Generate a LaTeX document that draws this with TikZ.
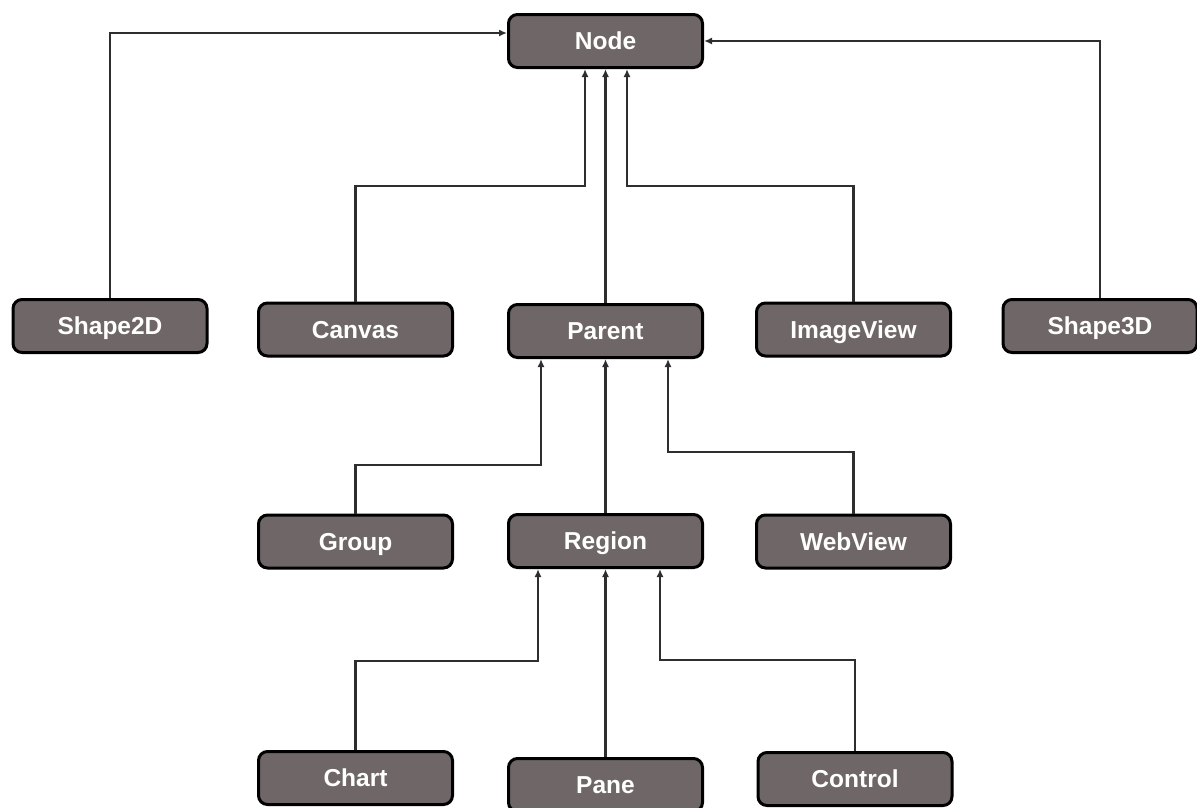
\documentclass[tikz,border=0pt]{standalone}
\usepackage{fontspec}
\setmainfont{Liberation Sans}
\usetikzlibrary{arrows.meta}
\definecolor{boxfill}{HTML}{6F6767}
\definecolor{linecol}{HTML}{2E2E2E}
\tikzset{
  cls/.style={draw=black, line width=3pt, fill=boxfill, rounded corners=9pt,
    minimum width=194pt, minimum height=53pt, inner sep=0pt,
    text height=17.5pt, text depth=0pt,
    text=white, font=\fontsize{24.5}{26}\selectfont\bfseries},
  arr/.style={draw=linecol, line width=2.2pt, -{Latex[length=8pt,width=7pt]}}
}
\begin{document}
\begin{tikzpicture}[x=1pt,y=-1pt]
\useasboundingbox[fill=white] (0,0) rectangle (1197,807);
\node[cls] (node) at (605.5,41) {Node};
\node[cls] (shape2d) at (110,326) {Shape2D};
\node[cls] (canvas) at (355.5,329.5) {Canvas};
\node[cls] (parent) at (605.5,331) {Parent};
\node[cls] (imageview) at (853.5,329.5) {ImageView};
\node[cls] (shape3d) at (1100,326) {Shape3D};
\node[cls] (group) at (355.5,541.5) {Group};
\node[cls] (region) at (605.5,541) {Region};
\node[cls] (webview) at (853.5,541.5) {WebView};
\node[cls] (chart) at (355.5,778) {Chart};
\node[cls] (pane) at (605.5,785) {Pane};
\node[cls] (control) at (855,779) {Control};

\coordinate (j1) at (585,186);
\coordinate (j2) at (627,186);
\coordinate (j3) at (541,465);
\coordinate (j4) at (668,452);
\coordinate (j5) at (538,661);
\coordinate (j6) at (660,660);

\draw[arr] (shape2d.north) |- ([yshift=8pt]node.west);
\draw[arr] (shape3d.north) |- (node.east);
\draw[arr] (canvas.north) |- (j1) -- (j1 |- node.south);
\draw[arr] (parent.north) -- (node.south);
\draw[arr] (imageview.north) |- (j2) -- (j2 |- node.south);

\draw[arr] (group.north) |- (j3) -- (j3 |- parent.south);
\draw[arr] (region.north) -- (parent.south);
\draw[arr] (webview.north) |- (j4) -- (j4 |- parent.south);

\draw[arr] (chart.north) |- (j5) -- (j5 |- region.south);
\draw[arr] (pane.north) -- (region.south);
\draw[arr] (control.north) |- (j6) -- (j6 |- region.south);
\end{tikzpicture}
\end{document}
